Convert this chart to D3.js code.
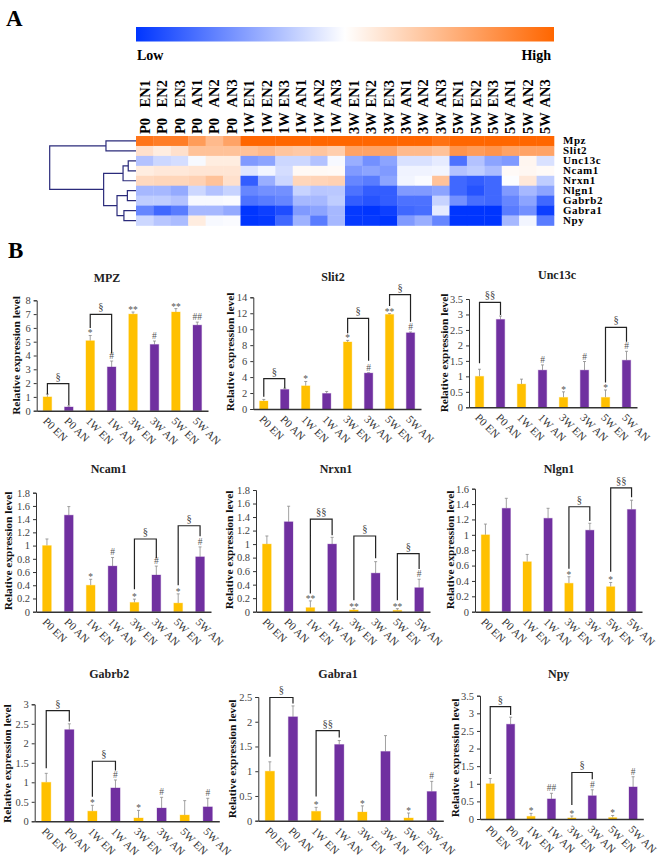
<!DOCTYPE html>
<html>
<head>
<meta charset="utf-8">
<style>
body { margin: 0; background: #fff; }
text { font-family: "Liberation Serif", serif; }
</style>
<script src="https://cdnjs.cloudflare.com/ajax/libs/d3/7.8.5/d3.min.js"></script>
</head>
<body>
<div id="chart"></div>
<script>
// heatmap data
var periods = ["P0", "1W", "3W", "5W"];
var samples = ["EN1", "EN2", "EN3", "AN1", "AN2", "AN3"];
var genes = ["Mpz", "Slit2", "Unc13c", "Ncam1", "Nrxn1", "Nlgn1", "Gabrb2", "Gabra1", "Npy"];
var mpzHeat = [.9,.85,.85,.65,.45,.6, 1,1,1,1,1,1, 1,1,1,1,1,.92, 1,1,1,1,1,1];
var slit2Heat = [.2,.12,.2,.4,.4,.4, .4,.45,.38,.35,.38,.32, .6,.6,.6,.45,.45,.4, .7,.65,.7,.6,.6,.6];
var unc13cHeat = [-.3,-.2,-.17,-.03,.12,.12, -.5,-.45,-.2,-.2,-.3,-.03, -.4,-.55,-.45,-.15,-.15,-.1, -.7,-.3,-.45,-.5,.06,-.15];
var ncam1Heat = [.12,.15,.15,.17,.17,.17, -.13,-.05,-.17,.04,.04,.03, -.5,-.45,-.5,-.06,-.06,-.05, -.3,-.25,-.33,.03,.05,.03];
var nrxn1Heat = [.25,.27,.27,.3,.4,.2, -.8,-.4,-.2,.27,.28,.3, -.6,-.65,-.45,-.05,-.02,.4, -.75,-.8,-.75,-.01,.15,-.25];
var nlgn1Heat = [-.35,-.35,-.42,-.2,-.3,-.22, -.6,-.55,-.55,-.22,-.28,-.27, -.7,-.8,-.8,-.5,-.5,-.45, -.75,-.85,-.75,-.5,-.35,-.45];
var gabrb2Heat = [-.25,-.25,-.3,-.03,-.03,-.02, -.7,-.65,-.6,-.35,-.35,-.25, -.8,-.85,-.8,-.7,-.7,-.22, -.55,-.72,-.75,-.6,-.45,-.75];
var gabra1Heat = [-.6,-.75,-.65,-.35,-.35,-.42, -1,-.95,-.88,-.5,-.45,-.35, -.98,-1,-.95,-.75,-.72,-.1, -1,-1,-1,-.65,-.55,-.95];
var npyHeat = [-.2,-.28,-.33,.12,-.03,-.02, -1,-.98,-.75,-.38,-.65,-.35, -.98,-.98,-1,-.5,-.4,-.6, -1,-1,-1,-.35,-.05,-.65];
var heatRows = [mpzHeat, slit2Heat, unc13cHeat, ncam1Heat, nrxn1Heat, nlgn1Heat, gabrb2Heat, gabra1Heat, npyHeat];

// dendrogram, h = merge height
var dendro = {h: 1, children: [
	{h: .348, children: [{gene: "Mpz"}, {gene: "Slit2"}]},
	{h: .375, children: [
		{h: .15, children: [
			{h: .09, children: [{gene: "Unc13c"}, {gene: "Ncam1"}]},
			{gene: "Nrxn1"}
		]},
		{h: .22, children: [
			{h: .10, children: [{gene: "Nlgn1"}, {gene: "Gabrb2"}]},
			{h: .14, children: [{gene: "Gabra1"}, {gene: "Npy"}]}
		]}
	]}
]};

// bar charts
var groups = ["P0 EN", "P0 AN", "1W EN", "1W AN", "3W EN", "3W AN", "5W EN", "5W AN"];

var mpzVals = [1, .27, 5.07, 3.17, 7, 4.8, 7.15, 6.2];
var mpzErr = [1.2, .35, 5.45, 3.6, 7.15, 5.05, 7.4, 6.42];
var mpzSig = ["", "", "*", "#", "**", "#", "**", "##"];
var mpzTicks = [0, 1, 2, 3, 4, 5, 6, 7, 8];
var mpzBrackets = [[0, 1, 1.96, 1.2, .4, "§"], [2, 3, 6.98, 6, 4.15, "§"]];

var slit2Vals = [1, 2.45, 2.9, 1.95, 8.4, 4.5, 11.85, 9.55];
var slit2Err = [1.2, 2.6, 3.45, 2.2, 8.6, 4.55, 11.95, 9.65];
var slit2Sig = ["", "", "*", "", "*", "#", "**", "#"];
var slit2Ticks = [0, 2, 4, 6, 8, 10, 12, 14];
var slit2Brackets = [[0, 1, 3.8, 1.55, 2.6, "§"], [4, 5, 11.37, 9.5, 6.05, "§"], [6, 7, 14.33, 12.9, 10.95, "§"]];

var unc13cVals = [1, 2.84, .75, 1.2, .32, 1.2, .32, 1.52];
var unc13cErr = [1.23, 2.95, .91, 1.37, .5, 1.48, .56, 1.81];
var unc13cSig = ["", "", "", "#", "*", "#", "*", "#"];
var unc13cTicks = [0, .5, 1, 1.5, 2, 2.5, 3, 3.5];
var unc13cBrackets = [[0, 1, 3.39, 1.42, 2.98, "§§"], [6, 7, 2.58, .8, 2.12, "§"]];

var ncam1Vals = [1, 1.46, .4, .69, .14, .555, .13, .83];
var ncam1Err = [1.1, 1.59, .49, .82, .19, .69, .27, .98];
var ncam1Sig = ["", "", "*", "#", "*", "#", "*", "#"];
var ncam1Ticks = [0, .2, .4, .6, .8, 1, 1.2, 1.4, 1.6, 1.8];
var ncam1Brackets = [[4, 5, 1.1, .34, .81, "§"], [6, 7, 1.3, .4, 1.14, "§"]];

var nrxn1Vals = [1, 1.33, .06, 1, .025, .57, .02, .355];
var nrxn1Err = [1.12, 1.56, .16, 1.1, .045, .74, .045, .48];
var nrxn1Sig = ["", "", "**", "", "**", "", "**", "#"];
var nrxn1Ticks = [0, .2, .4, .6, .8, 1, 1.2, 1.4, 1.6, 1.8];
var nrxn1Brackets = [[2, 3, 1.37, .27, 1.13, "§§"], [4, 5, 1.12, .17, .79, "§"], [6, 7, .86, .17, .63, "§"]];

var nlgn1Vals = [1, 1.345, .65, 1.215, .37, 1.06, .325, 1.33];
var nlgn1Err = [1.14, 1.475, .745, 1.345, .455, 1.15, .38, 1.45];
var nlgn1Sig = ["", "", "", "", "*", "", "*", ""];
var nlgn1Ticks = [0, .2, .4, .6, .8, 1, 1.2, 1.4, 1.6];
var nlgn1Brackets = [[4, 5, 1.365, .56, 1.18, "§"], [6, 7, 1.61, .52, 1.49, "§§"]];

var gabrb2Vals = [1, 2.35, .26, .855, .085, .34, .16, .37];
var gabrb2Err = [1.23, 2.5, .41, 1.06, .28, .615, .53, .59];
var gabrb2Sig = ["", "", "*", "#", "*", "#", "", "#"];
var gabrb2Ticks = [0, .5, 1, 1.5, 2, 2.5, 3];
var gabrb2Brackets = [[0, 1, 2.84, 1.36, 2.56, "§"], [2, 3, 1.54, .63, 1.3, "§"]];

var gabra1Vals = [1, 2.1, .19, 1.54, .175, 1.4, .055, .59];
var gabra1Err = [1.19, 2.32, .27, 1.62, .3, 1.72, .155, .795];
var gabra1Sig = ["", "", "*", "", "*", "", "*", "#"];
var gabra1Ticks = [0, .5, 1, 1.5, 2, 2.5];
var gabra1Brackets = [[0, 1, 2.49, 1.29, 2.37, "§"], [2, 3, 1.82, .49, 1.68, "§§"]];

var npyVals = [1, 2.69, .075, .57, .03, .66, .04, .91];
var npyErr = [1.15, 2.89, .16, .73, .085, .83, .1, 1.2];
var npySig = ["", "", "*", "##", "*", "#", "*", "#"];
var npyTicks = [0, .5, 1, 1.5, 2, 2.5, 3, 3.5];
var npyBrackets = [[0, 1, 3.19, 1.28, 2.95, "§"], [4, 5, 1.32, .4, 1.13, "§"]];

var svg = d3.select("#chart").append("svg")
	.attr("width", 660)
	.attr("height", 860)

var heatColor = d3.scaleLinear()
	.domain([-1, 0, 1])
	.range(["#0035ff", "#ffffff", "#ff6600"])

svg.append("text").attr("x", 6).attr("y", 26)
	.style("font-size", "23px").style("font-weight", "bold").text("A")
svg.append("text").attr("x", 8).attr("y", 258)
	.style("font-size", "23px").style("font-weight", "bold").text("B")

// colour key
var grad = svg.append("defs").append("linearGradient").attr("id", "key")
d3.range(-1, 1.01, .25).forEach(function(v){
	grad.append("stop").attr("offset", (v + 1) / 2).attr("stop-color", heatColor(v))
})
svg.append("rect")
	.attr("x", 136).attr("y", 27)
	.attr("width", 418).attr("height", 14.5)
	.attr("fill", "url(#key)")
svg.append("text").attr("x", 137).attr("y", 60)
	.style("font-size", "14px").style("font-weight", "bold").text("Low")
svg.append("text").attr("x", 551).attr("y", 60)
	.attr("text-anchor", "end")
	.style("font-size", "14px").style("font-weight", "bold").text("High")

// heatmap
var colNames = []
periods.forEach(function(p){
	samples.forEach(function(s){ colNames.push({period: p, sample: s, id: p + s}) })
})
var hx = d3.scaleBand().domain(colNames.map(function(d){ return d.id })).range([136, 554])
var hy = d3.scaleBand().domain(genes).range([136, 225.5])

genes.forEach(function(g, r){
	svg.append("g").selectAll("rect")
		.data(heatRows[r])
		.enter().append("rect")
		.attr("x", function(d, i){ return hx(colNames[i].id) })
		.attr("y", hy(g))
		.attr("width", hx.bandwidth() + .3)
		.attr("height", hy.bandwidth() + .3)
		.attr("fill", function(d){ return heatColor(d) })
	svg.append("text")
		.attr("x", 563)
		.attr("y", hy(g) + hy.bandwidth() / 2 + 3.5)
		.style("font-size", "11px")
		.style("letter-spacing", ".55px")
		.style("font-weight", "bold")
		.text(g)
})

colNames.forEach(function(c){
	var px = hx(c.id) + hx.bandwidth() / 2 + 5
	svg.append("text")
		.attr("transform", "translate(" + px + ",134) rotate(-90)")
		.style("font-size", "14.5px").style("font-weight", "bold")
		.text(c.period)
	svg.append("text")
		.attr("transform", "translate(" + px + ",107.5) rotate(-90)")
		.style("font-size", "14.5px").style("font-weight", "bold")
		.text(c.sample)
})

// dendrogram
var dx = d3.scaleLinear().domain([0, 1]).range([136, 49.7])
var root = d3.hierarchy(dendro)
root.eachAfter(function(n){
	if(n.children){
		n.py = d3.mean(n.children, function(c){ return c.py })
		n.px = dx(n.data.h)
	}else{
		n.py = hy(n.data.gene) + hy.bandwidth() / 2
		n.px = dx(0)
	}
})
svg.append("g").selectAll("path")
	.data(root.descendants().filter(function(n){ return n.children }))
	.enter().append("path")
	.attr("d", function(n){
		var a = n.children[0], b = n.children[1]
		return "M" + a.px + "," + a.py + "H" + n.px + "V" + b.py + "H" + b.px
	})
	.attr("fill", "none")
	.attr("stroke", "#2b2b7b")
	.attr("stroke-width", 1.2)

// bar panels: gene, data, then pixel box
var panels = [
	{title: "MPZ", vals: mpzVals, err: mpzErr, sig: mpzSig, ticks: mpzTicks, br: mpzBrackets, x0: 36.7, x1: 208, y0: 410.7, y1: 300.3, tx: 107, ty: 282, lx: 19.5, ly: 355.5},
	{title: "Slit2", vals: slit2Vals, err: slit2Err, sig: slit2Sig, ticks: slit2Ticks, br: slit2Brackets, x0: 253.3, x1: 421, y0: 409, y1: 297.3, tx: 333, ty: 281, lx: 234, ly: 352},
	{title: "Unc13c", vals: unc13cVals, err: unc13cErr, sig: unc13cSig, ticks: unc13cTicks, br: unc13cBrackets, x0: 469, x1: 637, y0: 407.3, y1: 299, tx: 557, ty: 279, lx: 448, ly: 353},
	{title: "Ncam1", vals: ncam1Vals, err: ncam1Err, sig: ncam1Sig, ticks: ncam1Ticks, br: ncam1Brackets, x0: 36, x1: 211, y0: 611.7, y1: 492.7, tx: 108.7, ty: 473, lx: 12.3, ly: 551},
	{title: "Nrxn1", vals: nrxn1Vals, err: nrxn1Err, sig: nrxn1Sig, ticks: nrxn1Ticks, br: nrxn1Brackets, x0: 256, x1: 430, y0: 611.7, y1: 490, tx: 336, ty: 473, lx: 232.7, ly: 550},
	{title: "Nlgn1", vals: nlgn1Vals, err: nlgn1Err, sig: nlgn1Sig, ticks: nlgn1Ticks, br: nlgn1Brackets, x0: 475, x1: 642, y0: 611.7, y1: 488.7, tx: 559, ty: 473, lx: 454, ly: 550},
	{title: "Gabrb2", vals: gabrb2Vals, err: gabrb2Err, sig: gabrb2Sig, ticks: gabrb2Ticks, br: gabrb2Brackets, x0: 34.7, x1: 219.3, y0: 821.3, y1: 704.3, tx: 109.3, ty: 678, lx: 11, ly: 763.7},
	{title: "Gabra1", vals: gabra1Vals, err: gabra1Err, sig: gabra1Sig, ticks: gabra1Ticks, br: gabra1Brackets, x0: 258.3, x1: 443.3, y0: 820.7, y1: 697, tx: 338, ty: 678, lx: 236, ly: 759},
	{title: "Npy", vals: npyVals, err: npyErr, sig: npySig, ticks: npyTicks, br: npyBrackets, x0: 480, x1: 643.3, y0: 819, y1: 695.7, tx: 558.7, ty: 678, lx: 459.3, ly: 758}
]

panels.forEach(function(p){
	var g = svg.append("g")
	var x = d3.scaleBand().domain(groups).range([p.x0, p.x1]).paddingInner(.6).paddingOuter(.3)
	var y = d3.scaleLinear()
		.domain([0, d3.max(p.ticks)])
		.range([p.y0, p.y1])
	var cx = function(i){ return x(groups[i]) + x.bandwidth() / 2 }

	g.append("text")
		.attr("x", p.tx).attr("y", p.ty)
		.attr("text-anchor", "middle")
		.style("font-size", "12px").style("font-weight", "bold")
		.style("fill", "#222")
		.text(p.title)

	g.append("text")
		.attr("transform", "translate(" + p.lx + "," + p.ly + ") rotate(-90)")
		.attr("text-anchor", "middle")
		.style("font-size", "11.4px").style("font-weight", "bold")
		.style("fill", "#111")
		.text("Relative expression level")

	// error bars
	g.selectAll("line.err").data(p.err).enter().append("line")
		.attr("class", "err")
		.attr("x1", function(d, i){ return cx(i) }).attr("x2", function(d, i){ return cx(i) })
		.attr("y1", function(d, i){ return y(p.vals[i]) }).attr("y2", function(d){ return y(d) })
		.attr("stroke", "#8a8a8a").attr("stroke-width", .8)
	g.selectAll("line.cap").data(p.err).enter().append("line")
		.attr("class", "cap")
		.attr("x1", function(d, i){ return cx(i) - 1.5 }).attr("x2", function(d, i){ return cx(i) + 1.5 })
		.attr("y1", function(d){ return y(d) }).attr("y2", function(d){ return y(d) })
		.attr("stroke", "#8a8a8a").attr("stroke-width", .8)

	// bars, soft edge like the scanned figure
	g.selectAll("rect").data(p.vals).enter().append("rect")
		.attr("x", function(d, i){ return x(groups[i]) })
		.attr("y", function(d){ return y(d) })
		.attr("width", x.bandwidth())
		.attr("height", function(d){ return p.y0 - y(d) })
		.attr("fill", function(d, i){ return i % 2 == 0 ? "#ffc000" : "#7030a0" })
		.attr("stroke", function(d, i){ return i % 2 == 0 ? "#ffc000" : "#7030a0" })
		.attr("stroke-opacity", .3)

	// significance marks
	g.selectAll("text.sig").data(p.sig).enter().append("text")
		.attr("class", "sig")
		.attr("x", function(d, i){ return cx(i) })
		.attr("y", function(d, i){ return y(p.err[i]) - (d.charAt(0) == "*" ? -1 : 2) })
		.attr("text-anchor", "middle")
		.style("font-size", "9.5px").style("fill", "#555")
		.text(function(d){ return d })

	// brackets: from, to, top, left leg end, right leg end, label
	p.br.forEach(function(b){
		g.append("path")
			.attr("d", "M" + cx(b[0]) + "," + y(b[3]) + "V" + y(b[2]) + "H" + cx(b[1]) + "V" + y(b[4]))
			.attr("fill", "none").attr("stroke", "#222").attr("stroke-width", 1.2)
		g.append("text")
			.attr("x", (cx(b[0]) + cx(b[1])) / 2)
			.attr("y", y(b[2]) - 4)
			.attr("text-anchor", "middle")
			.style("font-size", "10.5px").style("fill", "#444")
			.text(b[5])
	})

	// axes
	var yAxis = d3.axisLeft(y).tickValues(p.ticks).tickSize(3).tickPadding(3).tickFormat(function(d){ return d })
	var ya = g.append("g").attr("transform", "translate(" + p.x0 + ",0)").call(yAxis)
	ya.selectAll("text").style("font-size", "10.5px").style("fill", "#444").style("font-family", "Liberation Serif")
	ya.selectAll("line").attr("stroke", "#333")
	ya.select(".domain").attr("stroke", "#333")

	var xa = g.append("g").attr("transform", "translate(0," + p.y0 + ")").call(d3.axisBottom(x).tickSize(0))
	xa.select(".domain").attr("stroke", "#333").attr("stroke-width", 1.4)
	xa.selectAll("text")
		.attr("text-anchor", "start")
		.attr("dy", 0).attr("y", 0)
		.attr("transform", "translate(-5,11) rotate(45)")
		.style("font-size", "11px").style("fill", "#333").style("font-family", "Liberation Serif")
})
</script>
</body>
</html>
